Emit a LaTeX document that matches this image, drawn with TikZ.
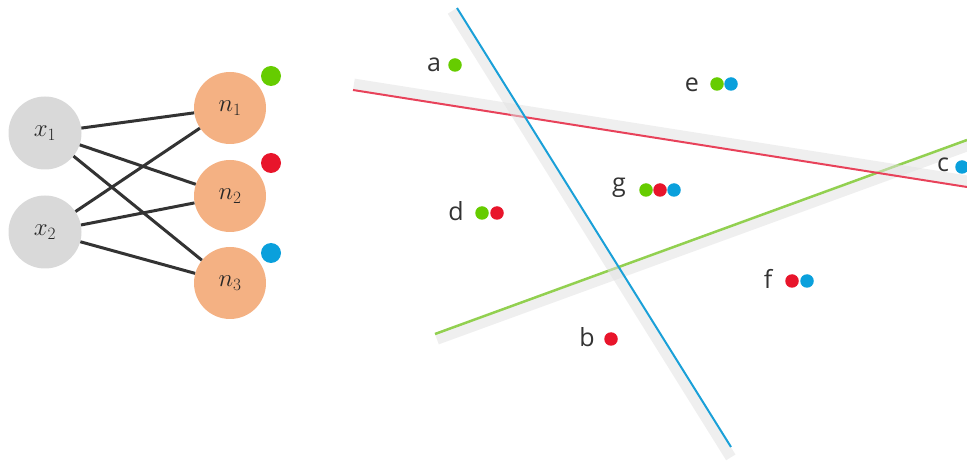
\documentclass[tikz,border=0pt]{standalone}
\usepackage{fontspec}
\setmainfont{Open Sans}
\newfontfamily\lblfont{Open Sans}
\usetikzlibrary{calc}
\definecolor{dgreen}{HTML}{66CC00}
\definecolor{dred}{HTML}{E8152B}
\definecolor{dblue}{HTML}{0AA0DC}
\definecolor{lblue}{HTML}{1AA0D8}
\definecolor{lred}{HTML}{E8425A}
\definecolor{lgreen}{HTML}{92D050}
\definecolor{ingray}{HTML}{D9D9D9}
\definecolor{outor}{HTML}{F4B183}
\definecolor{edgec}{HTML}{333333}
\definecolor{txtc}{HTML}{333333}
\definecolor{bandc}{HTML}{E0E0E0}
\begin{document}
\begin{tikzpicture}[x=1pt,y=-1pt,
  innode/.style={circle,fill=ingray,minimum size=73pt,inner sep=0pt,text=black!85,font=\fontsize{27}{27}\selectfont},
  outnode/.style={circle,fill=outor,minimum size=72pt,inner sep=0pt,text=black!85,font=\fontsize{27}{27}\selectfont},
  wedge/.style={draw=edgec,line width=3pt},
  bigdot/.style={circle,inner sep=0pt,minimum size=20pt},
  smdot/.style={circle,inner sep=0pt,minimum size=13.5pt},
  lbl/.style={anchor=base,inner sep=0pt,text=txtc,font=\lblfont\fontsize{25}{25}\selectfont},
  band/.style={draw=bandc,line width=11pt,opacity=0.5},
]
\useasboundingbox (0,0) rectangle (967,462);
% network
\node[innode] (x1) at (45,133) {$x_1$};
\node[innode] (x2) at (45,232) {$x_2$};
\node[outnode] (n1) at (230,108) {$n_1$};
\node[outnode] (n2) at (230,196) {$n_2$};
\node[outnode] (n3) at (230,283) {$n_3$};
\draw[wedge] (x1) -- (n1);
\draw[wedge] (x1) -- (n2);
\draw[wedge] (x1) -- (n3);
\draw[wedge] (x2) -- (n1);
\draw[wedge] (x2) -- (n2);
\draw[wedge] (x2) -- (n3);
\node[bigdot,fill=dgreen] (k1) at (271,76) {};
\node[bigdot,fill=dred] (k2) at (271,163) {};
\node[bigdot,fill=dblue] (k3) at (271,253) {};
% green line with band below
\coordinate (gA) at (435,334);
\coordinate (gB) at (967,140);
\draw[band] ($(gA)+(1.9,5.2)$) -- ($(gB)+(1.9,5.2)$);
\draw[lgreen,line width=2.5pt] (gA) -- (gB);
% red line with band above
\coordinate (rA) at (353,90);
\coordinate (rB) at (967,187);
\draw[band] ($(rA)+(0.9,-5.9)$) -- ($(rB)+(0.9,-5.9)$);
\draw[lred,line width=2pt] (rA) -- (rB);
% blue line with band left
\coordinate (bA) at (457,8);
\coordinate (bB) at (731,447);
\draw[band] ($(bA)+(-4.6,2.8)$) -- ($(bB)+(-0.2,10.4)$);
\draw[lblue,line width=2pt] (bA) -- (bB);
% labels
\node[lbl] (la) at (434,72) {a};
\node[smdot,fill=dgreen] (a1) at (455,65) {};
\node[lbl] (le) at (692,92) {e};
\node[smdot,fill=dgreen] (e1) at (717,84) {};
\node[smdot,fill=dblue] (e2) at (731,84) {};
\node[lbl] (lc) at (943,172) {c};
\node[smdot,fill=dblue] (c1) at (962,167) {};
\node[lbl] (lg) at (619,192) {g};
\node[smdot,fill=dgreen] (g1) at (646,190) {};
\node[smdot,fill=dred] (g2) at (660,190) {};
\node[smdot,fill=dblue] (g3) at (674,190) {};
\node[lbl] (ld) at (456,221) {d};
\node[smdot,fill=dgreen] (d1) at (482,213) {};
\node[smdot,fill=dred] (d2) at (497,213) {};
\node[lbl] (lf) at (768,289) {f};
\node[smdot,fill=dred] (f1) at (792,281) {};
\node[smdot,fill=dblue] (f2) at (807,281) {};
\node[lbl] (lb) at (587,347) {b};
\node[smdot,fill=dred] (b1) at (611,339) {};
\end{tikzpicture}
\end{document}
